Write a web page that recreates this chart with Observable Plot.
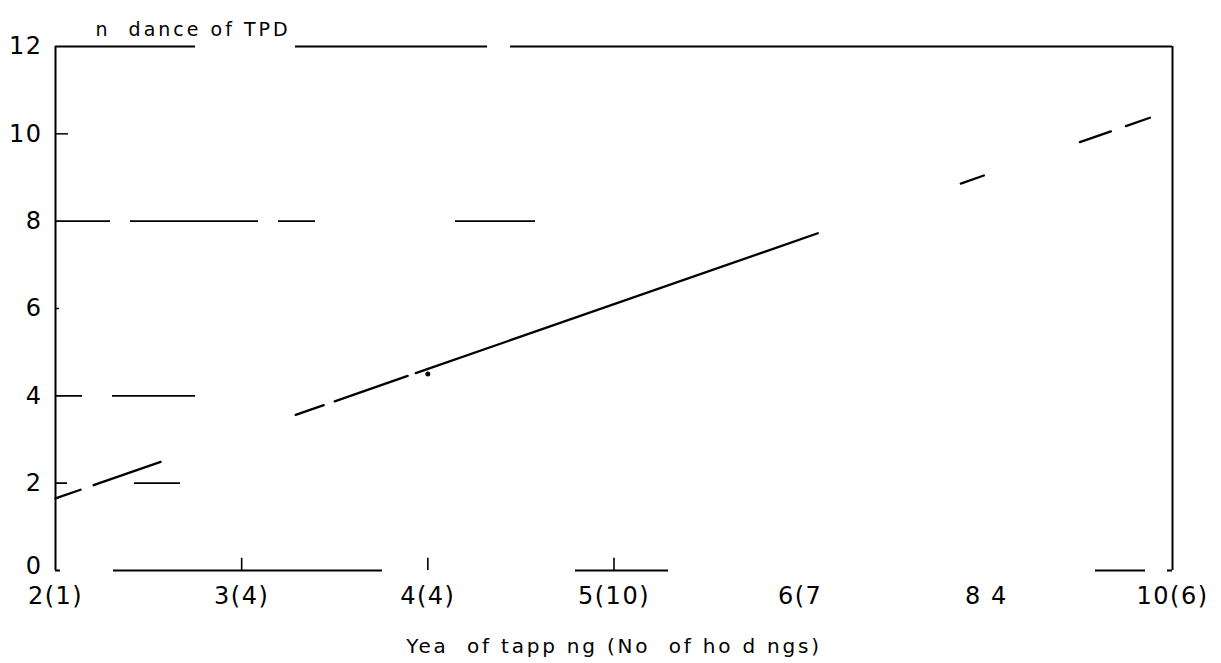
<!DOCTYPE html>
<html>
<head>
<meta charset="utf-8">
<script src="https://cdn.jsdelivr.net/npm/d3@7"></script>
<script src="https://cdn.jsdelivr.net/npm/@observablehq/plot@0.6"></script>
<style>
  html, body { margin: 0; padding: 0; background: #fff; }
</style>
</head>
<body>
<div id="chart"></div>
<script>
// ---- data ----
const xLabels = ["2(1)", "3(4)", "4(4)", "5(10)", "6(7", "8 4", "10(6)"];
const xTicks = [0, 1, 2, 3, 4, 5, 6];
const yTicks = [2, 4, 6, 8, 10, 12];
const yZeroTick = [0];
const fitX = [0, 5.88];
const fitY = [1.65, 10.37];
const pointX = [2];
const pointY = [4.5];
const bottomTickMarks = [1, 2, 3];
const titleText = "n  dance of TPD";
const xTitle = "Yea  of tapp ng (No  of ho d ngs)";

const fit = fitX.map((x, i) => ({x, y: fitY[i]}));
const pts = pointX.map((x, i) => ({x, y: pointY[i]}));

const chart = Plot.plot({
  width: 1221,
  height: 663,
  marginLeft: 55,
  marginRight: 49,
  marginTop: 46,
  marginBottom: 93,
  x: {domain: [0, 6], axis: null},
  y: {domain: [0, 12], axis: null},
  style: {fontFamily: "'DejaVu Sans', sans-serif", fontSize: "24px", color: "#000", background: "#fff", letterSpacing: "1.5px"},
  marks: [
    Plot.axisY(yTicks, {tickSize: 0, tickPadding: 13, label: null, fontSize: 24}),
    Plot.axisY(yZeroTick, {tickSize: 0, tickPadding: 13, label: null, fontSize: 24, dy: -4}),
    Plot.axisX(xTicks, {tickSize: 0, tickPadding: 16, label: null, fontSize: 24, tickFormat: i => xLabels[i]}),
    // partial (scan-broken) grid lines
    Plot.ruleY([10], {x1: 0, x2: 6, stroke: "#000", strokeWidth: 1.5, strokeDasharray: "13 2000"}),
    Plot.ruleY([8], {x1: 0, x2: 6, stroke: "#000", strokeWidth: 1.6, strokeDasharray: "55 20 128 20 37 140 80 2000"}),
    Plot.ruleY([6], {x1: 0, x2: 6, stroke: "#000", strokeWidth: 1.5, strokeDasharray: "4 2000"}),
    Plot.ruleY([4], {x1: 0, x2: 6, stroke: "#000", strokeWidth: 1.6, strokeDasharray: "27 30 83 2000"}),
    Plot.ruleY([2], {x1: 0, x2: 6, stroke: "#000", strokeWidth: 1.6, strokeDasharray: "12 67 46 2000"}),
    // frame
    Plot.ruleX([0], {y1: 0, y2: 12, stroke: "#000", strokeWidth: 2}),
    Plot.ruleX([6], {y1: 0, y2: 12, stroke: "#000", strokeWidth: 2}),
    Plot.ruleY([12], {x1: 0, x2: 6, stroke: "#000", strokeWidth: 2, strokeDasharray: "140 100 192 23 1000"}),
    Plot.ruleY([0], {x1: 0, x2: 6, stroke: "#000", strokeWidth: 1.8, strokeDasharray: "5 53 269 193 93 427 50 22 5"}),
    Plot.ruleX(bottomTickMarks, {y1: 0, y2: 0.28, stroke: "#000", strokeWidth: 1.6}),
    // fitted line
    Plot.line(fit, {x: "x", y: "y", stroke: "#000", strokeWidth: 2.3,
      strokeDasharray: "26.5 13.8 71 143 29.7 11.6 77.3 8.5 425.7 151.4 24.4 101.7 32.8 15.9 25.4 500"}),
    Plot.dot(pts, {x: "x", y: "y", r: 2.5, fill: "#000", stroke: "none"}),
    // titles
    Plot.text([titleText], {frameAnchor: "top-left", dx: 40, dy: -24, fontSize: 19, textAnchor: "start", fill: "#000"}),
    Plot.text([xTitle], {frameAnchor: "bottom", dy: 82, fontSize: 20, fill: "#000"})
  ]
});
document.getElementById("chart").appendChild(chart);
// wider letter spacing for the titles, as in the reference
d3.select(chart).selectAll("text").filter(function() { return this.textContent === titleText; }).style("letter-spacing", "3px");
d3.select(chart).selectAll("text").filter(function() { return this.textContent === xTitle; }).style("letter-spacing", "2.8px");
</script>
</body>
</html>
